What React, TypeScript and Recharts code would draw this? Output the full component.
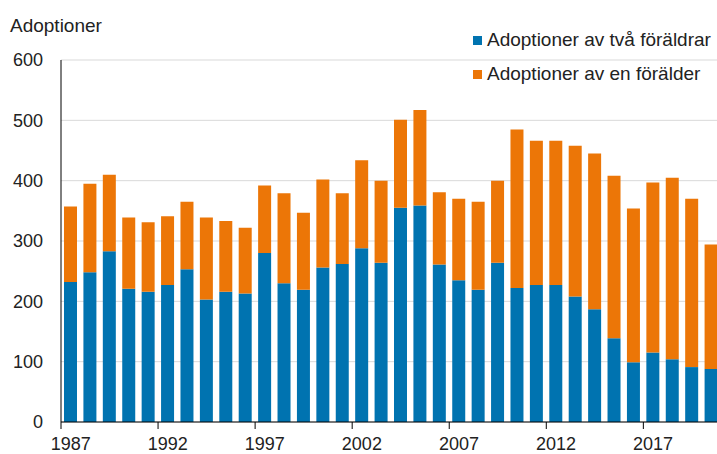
import { BarChart, Bar, XAxis, YAxis, CartesianGrid } from "recharts";

const FONT = "'Liberation Sans', Arial, sans-serif";
const BLUE = "#0073b0";
const ORANGE = "#ec7607";

const years = [
  1987, 1988, 1989, 1990, 1991, 1992, 1993, 1994, 1995, 1996, 1997, 1998,
  1999, 2000, 2001, 2002, 2003, 2004, 2005, 2006, 2007, 2008, 2009, 2010,
  2011, 2012, 2013, 2014, 2015, 2016, 2017, 2018, 2019, 2020,
];
const twoParents = [
  232, 248, 283, 221, 216, 227, 253, 203, 216, 213, 280, 230, 219, 256, 262,
  288, 264, 355, 359, 261, 235, 219, 264, 222, 227, 227, 208, 187, 139, 99,
  115, 104, 91, 88,
];
const oneParent = [
  125, 147, 127, 118, 115, 114, 112, 136, 117, 109, 112, 149, 128, 146, 117,
  146, 136, 146, 158, 120, 135, 146, 136, 263, 239, 239, 250, 258, 269, 255,
  282, 301, 279, 206,
];
const yTicks = [0, 100, 200, 300, 400, 500, 600];

const seriesNames = {
  two: "Adoptioner av två föräldrar",
  one: "Adoptioner av en förälder",
};

const data = years.map((y, i) => ({
  year: y,
  two: twoParents[i],
  one: oneParent[i],
}));

const CHART_W = 726;
const Y_W = 61;
const M_RIGHT = 5;
const BAND = (CHART_W - Y_W - M_RIGHT) / years.length;

function YearTick(props: any) {
  const { x, y, index, payload } = props;
  if (index % 5 !== 0) return null;
  const left = x - BAND / 2;
  return (
    <g>
      <line x1={left} x2={left} y1={y} y2={y + 7} stroke="#000" strokeWidth={1} />
      <text x={x} y={y + 28} textAnchor="middle" fontSize={18} fill="#222" fontFamily={FONT}>
        {payload.value}
      </text>
    </g>
  );
}

// legend sits on top of the plot, so it's plain html, not part of the chart layout
function LegendBox() {
  const items = [
    { label: seriesNames.two, color: BLUE },
    { label: seriesNames.one, color: ORANGE },
  ];
  return (
    <div style={{ position: "absolute", left: 473, top: 23 }}>
      {items.map((it) => (
        <div key={it.label} style={{ height: 34, display: "flex", alignItems: "center" }}>
          <span style={{ width: 9, height: 9, background: it.color, marginRight: 5, display: "inline-block" }} />
          <span style={{ fontSize: 19, color: "#222", fontFamily: FONT, whiteSpace: "nowrap" }}>{it.label}</span>
        </div>
      ))}
    </div>
  );
}

export default function App() {
  return (
    <div
      style={{
        position: "absolute",
        left: 0,
        top: 0,
        width: 717,
        height: 454,
        overflow: "hidden",
        background: "#fff",
      }}
    >
      <BarChart
        width={CHART_W}
        height={454}
        data={data}
        margin={{ top: 60, right: M_RIGHT, bottom: 0, left: 0 }}
        barSize={13}
      >
        <CartesianGrid vertical={false} stroke="#d9d9d9" />
        <XAxis
          dataKey="year"
          height={32}
          interval={0}
          tickLine={false}
          tickSize={0}
          tickMargin={0}
          axisLine={{ stroke: "#000" }}
          tick={<YearTick />}
        />
        <YAxis
          width={Y_W}
          domain={[0, 600]}
          ticks={yTicks}
          tickLine={false}
          tickSize={0}
          tickMargin={18}
          axisLine={{ stroke: "#000" }}
          tick={{ fontSize: 18, fill: "#222", fontFamily: FONT }}
        />
        <Bar dataKey="two" name={seriesNames.two} stackId="a" fill={BLUE} isAnimationActive={false} />
        <Bar dataKey="one" name={seriesNames.one} stackId="a" fill={ORANGE} isAnimationActive={false} />
      </BarChart>
      <div
        style={{
          position: "absolute",
          left: 10,
          top: 16,
          fontSize: 19,
          lineHeight: "19px",
          fontFamily: FONT,
          color: "#222",
        }}
      >
        Adoptioner
      </div>
      <LegendBox />
    </div>
  );
}
